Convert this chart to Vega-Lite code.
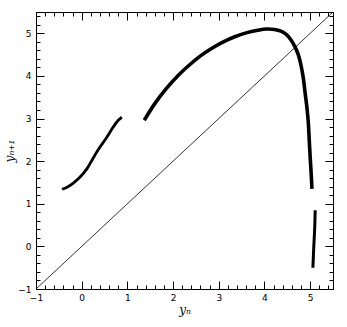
{
  "$schema": "https://vega.github.io/schema/vega-lite/v6.json",
  "autosize": "none",
  "width": 297,
  "height": 277,
  "padding": {"left": 36, "top": 12, "right": 14, "bottom": 38},
  "background": "white",
  "config": {
    "view": {"stroke": "black", "strokeWidth": 1},
    "axis": {
      "domainColor": "black",
      "tickColor": "black",
      "labelColor": "black",
      "titleColor": "black",
      "labelFont": "DejaVu Sans",
      "labelFontSize": 9,
      "titleFont": "DejaVu Serif",
      "titleFontSize": 12,
      "titleFontStyle": "italic",
      "titleFontWeight": "normal",
      "grid": false
    }
  },
  "datasets": {
    "diag": [{"x": -1, "y": -1}, {"x": 5.5, "y": 5.5}],
    "curve": [
      {"seg": "A", "i": 0, "x": -0.43, "y": 1.34},
      {"seg": "A", "i": 1, "x": -0.32, "y": 1.39},
      {"seg": "A", "i": 2, "x": -0.19, "y": 1.48},
      {"seg": "A", "i": 3, "x": -0.04, "y": 1.62},
      {"seg": "A", "i": 4, "x": 0.12, "y": 1.83},
      {"seg": "A", "i": 5, "x": 0.25, "y": 2.07},
      {"seg": "A", "i": 6, "x": 0.4, "y": 2.33},
      {"seg": "A", "i": 7, "x": 0.55, "y": 2.56},
      {"seg": "A", "i": 8, "x": 0.69, "y": 2.8},
      {"seg": "A", "i": 9, "x": 0.8, "y": 2.96},
      {"seg": "A", "i": 10, "x": 0.88, "y": 3.03},
      {"seg": "B", "i": 0, "x": 1.37, "y": 2.96},
      {"seg": "B", "i": 1, "x": 1.6, "y": 3.35},
      {"seg": "B", "i": 2, "x": 1.85, "y": 3.7},
      {"seg": "B", "i": 3, "x": 2.1, "y": 4.0},
      {"seg": "B", "i": 4, "x": 2.35, "y": 4.25},
      {"seg": "B", "i": 5, "x": 2.6, "y": 4.47},
      {"seg": "B", "i": 6, "x": 2.85, "y": 4.65},
      {"seg": "B", "i": 7, "x": 3.1, "y": 4.8},
      {"seg": "B", "i": 8, "x": 3.35, "y": 4.92},
      {"seg": "B", "i": 9, "x": 3.6, "y": 5.01},
      {"seg": "B", "i": 10, "x": 3.85, "y": 5.07},
      {"seg": "B", "i": 11, "x": 4.05, "y": 5.1},
      {"seg": "B", "i": 12, "x": 4.22, "y": 5.09},
      {"seg": "B", "i": 13, "x": 4.36, "y": 5.05},
      {"seg": "B", "i": 14, "x": 4.47, "y": 4.98},
      {"seg": "B", "i": 15, "x": 4.57, "y": 4.86},
      {"seg": "B", "i": 16, "x": 4.66, "y": 4.7},
      {"seg": "B", "i": 17, "x": 4.74, "y": 4.5},
      {"seg": "B", "i": 18, "x": 4.8, "y": 4.25},
      {"seg": "B", "i": 19, "x": 4.85, "y": 3.95},
      {"seg": "B", "i": 20, "x": 4.89, "y": 3.6},
      {"seg": "B", "i": 21, "x": 4.93, "y": 3.25},
      {"seg": "B", "i": 22, "x": 4.96, "y": 2.9},
      {"seg": "B", "i": 23, "x": 4.98, "y": 2.5},
      {"seg": "B", "i": 24, "x": 5.0, "y": 2.1},
      {"seg": "B", "i": 25, "x": 5.02, "y": 1.75},
      {"seg": "B", "i": 26, "x": 5.04, "y": 1.35},
      {"seg": "C", "i": 0, "x": 5.11, "y": 0.85},
      {"seg": "C", "i": 1, "x": 5.1, "y": 0.45},
      {"seg": "C", "i": 2, "x": 5.08, "y": 0.0},
      {"seg": "C", "i": 3, "x": 5.06, "y": -0.5}
    ]
  },
  "layer": [
    {
      "data": {"name": "diag"},
      "mark": {"type": "line", "color": "black", "strokeWidth": 0.8},
      "encoding": {
        "x": {
          "field": "x", "type": "quantitative",
          "scale": {"domain": [-1, 5.5], "nice": false, "zero": false},
          "axis": {"orient": "bottom", "title": "yₙ", "values": [-1, 0, 1, 2, 3, 4, 5], "format": "d",
            "tickSize": -8, "labelPadding": 12, "labelFlush": false, "titlePadding": 2}
        },
        "y": {
          "field": "y", "type": "quantitative",
          "scale": {"domain": [-1, 5.5], "nice": false, "zero": false},
          "axis": {"orient": "left", "title": "yₙ₊₁", "values": [-1, 0, 1, 2, 3, 4, 5], "format": "d",
            "tickSize": -8, "labelPadding": 13, "labelFlush": false, "titlePadding": 1}
        }
      }
    },
    {
      "data": {"name": "curve"},
      "transform": [{"filter": "datum.seg === 'A'"}],
      "mark": {"type": "line", "color": "black", "strokeWidth": 2.8, "interpolate": "catmull-rom"},
      "encoding": {
        "x": {"field": "x", "type": "quantitative",
          "axis": {"orient": "top", "title": null, "labels": false, "values": [-1, 0, 1, 2, 3, 4, 5], "tickSize": -8}},
        "y": {"field": "y", "type": "quantitative",
          "axis": {"orient": "right", "title": null, "labels": false, "values": [-1, 0, 1, 2, 3, 4, 5], "tickSize": -8}},
        "order": {"field": "i", "type": "quantitative"}
      }
    },
    {
      "data": {"name": "curve"},
      "transform": [{"filter": "datum.seg === 'B'"}],
      "mark": {"type": "line", "color": "black", "strokeWidth": 3.6, "interpolate": "catmull-rom"},
      "encoding": {
        "x": {"field": "x", "type": "quantitative",
          "axis": {"orient": "bottom", "title": null, "labels": false, "domain": false, "tickSize": -4,
            "values": [-0.8,-0.6,-0.4,-0.2,0.2,0.4,0.6,0.8,1.2,1.4,1.6,1.8,2.2,2.4,2.6,2.8,3.2,3.4,3.6,3.8,4.2,4.4,4.6,4.8,5.2,5.4]}},
        "y": {"field": "y", "type": "quantitative",
          "axis": {"orient": "left", "title": null, "labels": false, "domain": false, "tickSize": -4,
            "values": [-0.8,-0.6,-0.4,-0.2,0.2,0.4,0.6,0.8,1.2,1.4,1.6,1.8,2.2,2.4,2.6,2.8,3.2,3.4,3.6,3.8,4.2,4.4,4.6,4.8,5.2,5.4]}},
        "order": {"field": "i", "type": "quantitative"}
      }
    },
    {
      "data": {"name": "curve"},
      "transform": [{"filter": "datum.seg === 'C'"}],
      "mark": {"type": "line", "color": "black", "strokeWidth": 3, "interpolate": "catmull-rom"},
      "encoding": {
        "x": {"field": "x", "type": "quantitative",
          "axis": {"orient": "top", "title": null, "labels": false, "domain": false, "tickSize": -4,
            "values": [-0.8,-0.6,-0.4,-0.2,0.2,0.4,0.6,0.8,1.2,1.4,1.6,1.8,2.2,2.4,2.6,2.8,3.2,3.4,3.6,3.8,4.2,4.4,4.6,4.8,5.2,5.4]}},
        "y": {"field": "y", "type": "quantitative",
          "axis": {"orient": "right", "title": null, "labels": false, "domain": false, "tickSize": -4,
            "values": [-0.8,-0.6,-0.4,-0.2,0.2,0.4,0.6,0.8,1.2,1.4,1.6,1.8,2.2,2.4,2.6,2.8,3.2,3.4,3.6,3.8,4.2,4.4,4.6,4.8,5.2,5.4]}},
        "order": {"field": "i", "type": "quantitative"}
      }
    }
  ],
  "resolve": {"axis": {"x": "independent", "y": "independent"}}
}
